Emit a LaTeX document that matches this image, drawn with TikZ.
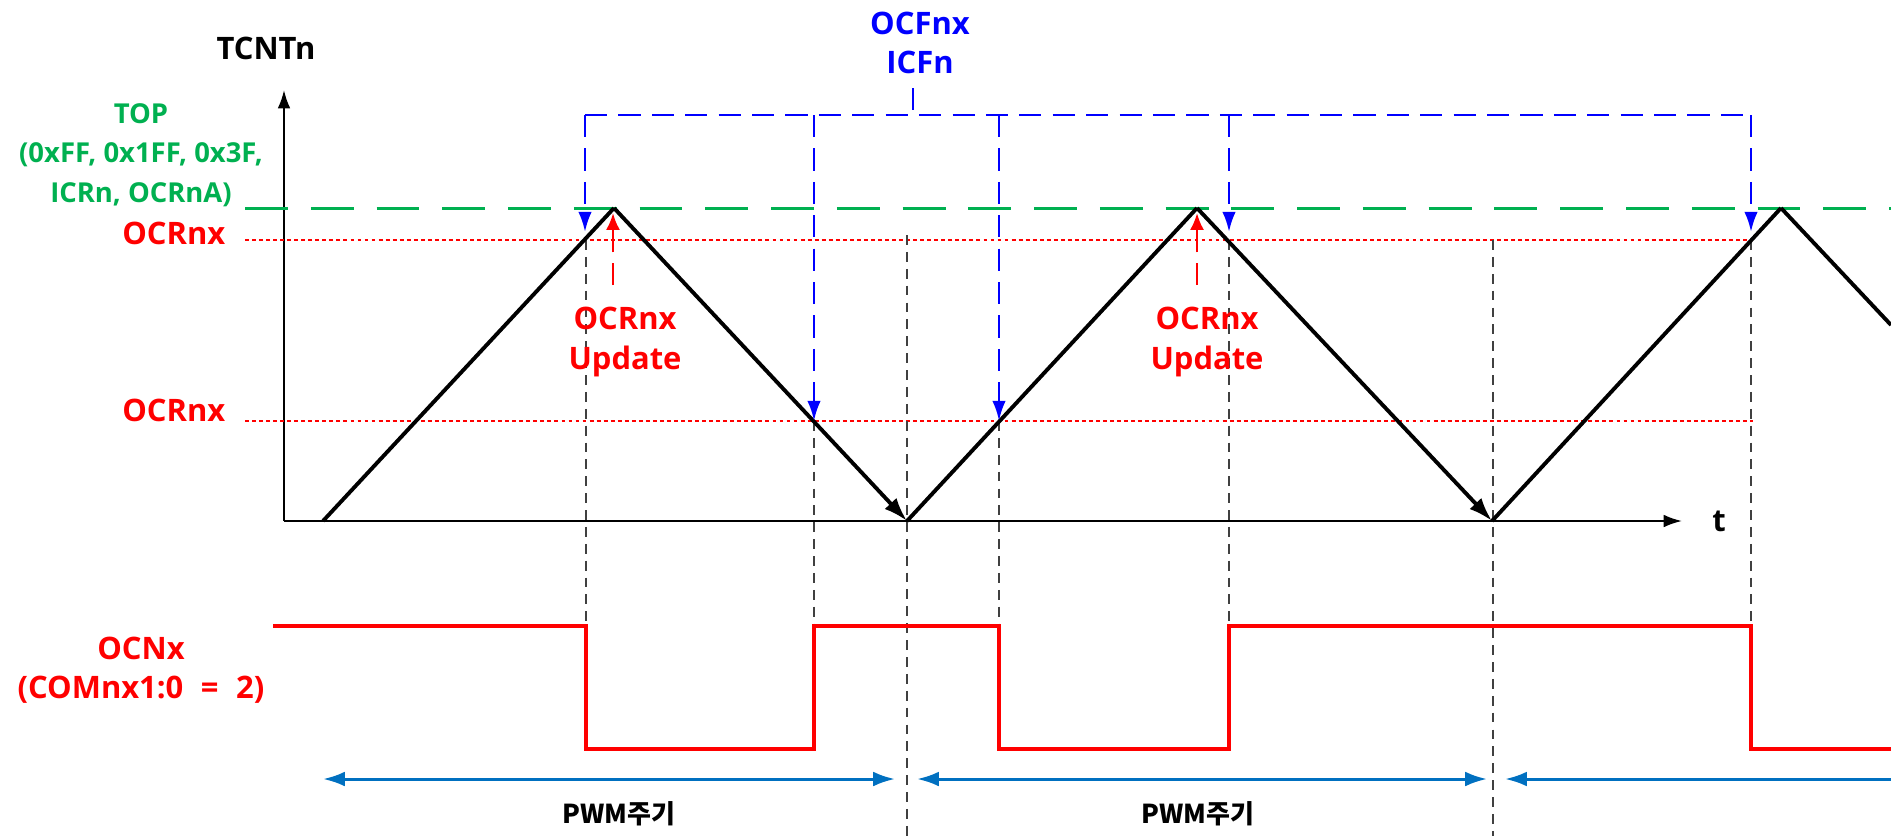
\documentclass[tikz,border=0pt]{standalone}
\usepackage{fontspec}
\setmainfont{Open Sans}
\newfontfamily\kor{Noto Sans CJK KR}
\usepackage{tikz}
\usetikzlibrary{arrows.meta}
\definecolor{topGreen}{RGB}{0,176,80}
\definecolor{periodBlue}{RGB}{0,112,192}

\begin{document}
\begin{tikzpicture}[x=0.01cm, y=-0.01cm,
txt/.style = {inner sep=0pt, align=center, font=\bfseries\fontsize{8.8}{11.2}\selectfont},
labelBlack/.style = {txt, text=black},
labelRed/.style = {txt, text=red},
labelBlue/.style = {txt, text=blue},
labelGreen/.style = {txt, text=topGreen, font=\bfseries\fontsize{7.8}{11.3}\selectfont},
labelKor/.style = {txt, text=black, font=\kor\bfseries\fontsize{7.4}{9}\selectfont},
axis/.style = {line width=0.6pt, -{Latex[length=5.2pt, width=3.6pt]}},
rampUp/.style = {line width=1.1pt},
rampDown/.style = {line width=1.1pt, -{Latex[length=6.8pt, width=4.6pt]}},
topLine/.style = {topGreen, line width=0.85pt, dash pattern=on 12.2pt off 6.5pt},
ocrLine/.style = {red, line width=0.8pt, dash pattern=on 1.1pt off 0.9pt},
flag/.style = {blue, line width=0.75pt, dash pattern=on 6.3pt off 3.2pt},
flagArrow/.style = {flag, -{Latex[length=5.7pt, width=3.8pt]}},
update/.style = {red, line width=0.75pt, dash pattern=on 6.3pt off 3pt, -{Latex[length=4.8pt, width=4pt]}},
guide/.style = {black!75, line width=0.45pt, dash pattern=on 2.8pt off 2pt},
pulse/.style = {red, line width=1.1pt},
period/.style = {periodBlue, line width=0.85pt},
periodBoth/.style = {period, {Latex[length=6.2pt, width=4.2pt]}-{Latex[length=6.2pt, width=4.2pt]}},
periodLeft/.style = {period, {Latex[length=6.2pt, width=4.2pt]}-}]
\useasboundingbox (0,0) rectangle (1891,836);
\def\yTop{208}
\def\yHi{240}
\def\yLo{421}
\def\yAx{521}
\def\yOn{626}
\def\yOff{749}
\def\yPer{779}

% axes
\coordinate (O) at (284,\yAx);
\coordinate (Yend) at (284,90);
\coordinate (Xend) at (1682,\yAx);
\draw[axis] (O) -- (Yend);
\draw[axis] (O) -- (Xend);
\node[labelBlack] (tcnt) at (266,48) {TCNTn};
\node[labelBlack] (tAxis) at (1719,521) {t};

% levels
\draw[topLine] (245,\yTop) -- (1891,\yTop);
\draw[ocrLine] (245,\yHi) -- (1753,\yHi);
\draw[ocrLine] (245,\yLo) -- (1753,\yLo);
\node[labelGreen] (top) at (141,155) {TOP\\(0xFF, 0x1FF, 0x3F,\\ICRn, OCRnA)};
\node[labelRed, anchor=east] (ocrHi) at (226,233) {OCRnx};
\node[labelRed, anchor=east] (ocrLo) at (226,410) {OCRnx};

% guides
\draw[guide] (586,\yHi) -- (586,\yOn);
\draw[guide] (814,\yLo) -- (814,\yOn);
\draw[guide] (999,\yLo) -- (999,\yOn);
\draw[guide] (1229,\yHi) -- (1229,\yOn);
\draw[guide] (1751,\yHi) -- (1751,\yOn);
\draw[guide] (907,235) -- (907,836);
\draw[guide] (1493,\yHi) -- (1493,836);

% counter
\coordinate (S) at (323,\yAx);
\coordinate (P1) at (614,\yTop);
\coordinate (V1) at (907,\yAx);
\coordinate (P2) at (1197,\yTop);
\coordinate (V2) at (1492,\yAx);
\coordinate (P3) at (1781,\yTop);
\coordinate (E) at (1891,325);
\draw[rampUp] (S) -- (P1);
\draw[rampDown] (P1) -- (V1);
\draw[rampUp] (V1) -- (P2);
\draw[rampDown] (P2) -- (V2);
\draw[rampUp] (V2) -- (P3);
\draw[rampUp] (P3) -- (E);

% OCRnx update
\coordinate (U1) at (613,285);
\coordinate (U2) at (1197,285);
\draw[update] (U1) -- (613,213);
\draw[update] (U2) -- (1197,213);
\node[labelRed] (upd1) at (625,342) {OCRnx\\Update};
\node[labelRed] (upd2) at (1207,342) {OCRnx\\Update};

% flags
\node[labelBlue] (flagLbl) at (920,43) {OCFnx\\ICFn};
\coordinate (Fl) at (585,115);
\coordinate (Fr) at (1751,115);
\draw[flag] (913,88) -- (913,115);
\draw[flag] (Fl) -- (Fr);
\draw[flagArrow] (Fl) -- (585,232);
\draw[flagArrow] (814,115) -- (814,\yLo);
\draw[flagArrow] (999,115) -- (999,\yLo);
\draw[flagArrow] (1229,115) -- (1229,232);
\draw[flagArrow] (Fr) -- (1751,232);

% output
\node[labelRed] (ocnx) at (141,670) {OCNx\\(COMnx1:0\hspace{5pt}=\hspace{5pt}2)};
\draw[pulse] (273,\yOn) -- (586,\yOn) -- (586,\yOff) -- (814,\yOff) -- (814,\yOn)
 -- (999,\yOn) -- (999,\yOff) -- (1229,\yOff) -- (1229,\yOn) -- (1751,\yOn)
 -- (1751,\yOff) -- (1891,\yOff);

% period
\coordinate (A1) at (323,\yPer);
\coordinate (B1) at (895,\yPer);
\coordinate (A2) at (917,\yPer);
\coordinate (B2) at (1487,\yPer);
\coordinate (A3) at (1505,\yPer);
\coordinate (B3) at (1891,\yPer);
\draw[periodBoth] (A1) -- (B1);
\draw[periodBoth] (A2) -- (B2);
\draw[periodLeft] (A3) -- (B3);
\node[labelKor] (pwm1) at (619,814) {PWM주기};
\node[labelKor] (pwm2) at (1198,814) {PWM주기};

\end{tikzpicture}
\end{document}
